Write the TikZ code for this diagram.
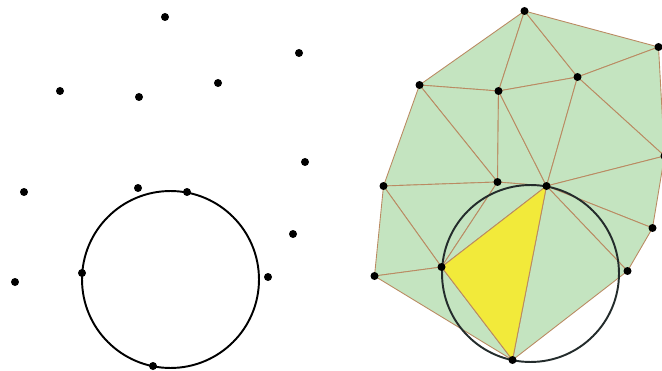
\documentclass[tikz,border=0pt]{standalone}
\usepackage{tikz}
\usepackage{xcolor}
\definecolor{meshgreen}{RGB}{196,228,192}
\definecolor{meshedge}{RGB}{186,138,98}
\definecolor{hityellow}{RGB}{242,234,58}
\definecolor{ringdark}{RGB}{36,44,44}
\tikzstyle{tri} = [fill=meshgreen, draw=meshedge, line width=0.5pt, line join=round]
\tikzstyle{badtri} = [fill=hityellow, draw=meshedge, line width=0.5pt, line join=round]
\tikzstyle{ring} = [line width=1.1pt]
\tikzstyle{dot} = [fill=black]

\begin{document}
\begin{tikzpicture}[x=0.02cm, y=-0.02cm]
  \useasboundingbox (0,0) rectangle (662,371);

  % same point set twice: left bare, right triangulated
  \foreach \n/\x/\y in {A/165/17, B/299/53, C/60/91, D/139/97, E/218/83, F/305/162,
      G/24/192, H/138/188, I/187/192, J/293/234, K/15/282, L/82/273, M/268/277, N/153/366} {
    \coordinate (l\n) at (\x,\y);
    \coordinate (r\n) at (\x+359.5,\y-6);
  }
  \coordinate (lO) at (170.5,279.5);
  \coordinate (rO) at (530.5,273.5);

  % left: points and circle
  \draw[ring] (lO) circle[radius=1.77cm];

  % right: triangulation
  \filldraw[tri] (rA) -- (rC) -- (rD) -- cycle;
  \filldraw[tri] (rA) -- (rD) -- (rE) -- cycle;
  \filldraw[tri] (rA) -- (rE) -- (rB) -- cycle;
  \filldraw[tri] (rB) -- (rE) -- (rF) -- cycle;
  \filldraw[tri] (rC) -- (rD) -- (rH) -- cycle;
  \filldraw[tri] (rD) -- (rH) -- (rI) -- cycle;
  \filldraw[tri] (rD) -- (rE) -- (rI) -- cycle;
  \filldraw[tri] (rE) -- (rI) -- (rF) -- cycle;
  \filldraw[tri] (rC) -- (rG) -- (rH) -- cycle;
  \filldraw[tri] (rG) -- (rH) -- (rL) -- cycle;
  \filldraw[tri] (rH) -- (rL) -- (rI) -- cycle;
  \filldraw[tri] (rG) -- (rK) -- (rL) -- cycle;
  \filldraw[tri] (rK) -- (rL) -- (rN) -- cycle;
  \filldraw[tri] (rI) -- (rF) -- (rJ) -- cycle;
  \filldraw[tri] (rI) -- (rJ) -- (rM) -- cycle;
  \filldraw[tri] (rI) -- (rM) -- (rN) -- cycle;
  \filldraw[badtri] (rL) -- (rI) -- (rN) -- cycle;

  \draw[ring, draw=ringdark] (rO) circle[radius=1.77cm];

  \foreach \n in {A,B,C,D,E,F,G,H,I,J,K,L,M,N} {
    \fill[dot] (l\n) circle[radius=0.08cm];
    \fill[dot] (r\n) circle[radius=0.08cm];
  }
\end{tikzpicture}
\end{document}
